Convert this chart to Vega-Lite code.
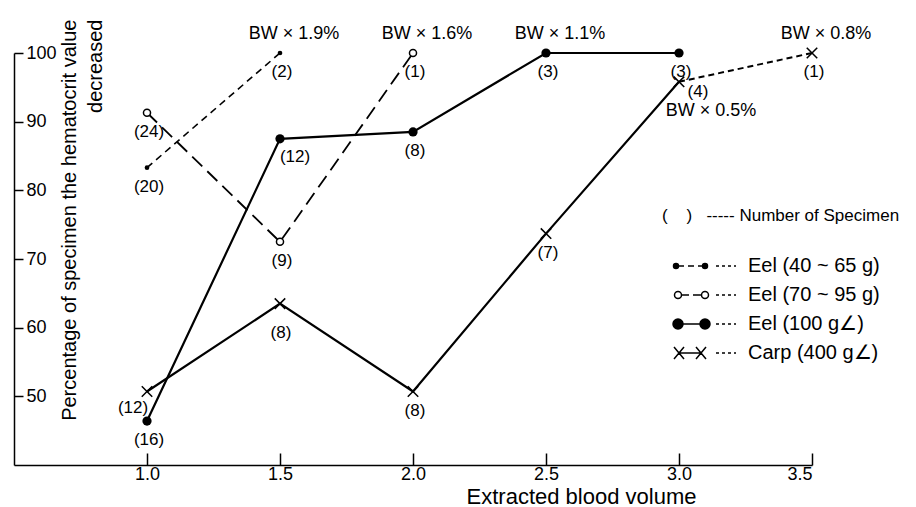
{
  "$schema": "https://vega.github.io/schema/vega-lite/v6.json",
  "width": 798,
  "height": 412,
  "autosize": "none",
  "padding": {"left": 14, "top": 53, "right": 104, "bottom": 42},
  "background": "white",
  "config": {
    "view": {"stroke": null},
    "font": "Liberation Sans",
    "text": {"font": "Liberation Sans", "color": "black"}
  },
  "data": {
    "values": [
      {"series": "Eel (40 ~ 65 g)", "x": 1.0, "y": 83.3, "n": "(20)"},
      {"series": "Eel (40 ~ 65 g)", "x": 1.5, "y": 100, "n": "(2)", "bw": "BW × 1.9%"},
      {"series": "Eel (70 ~ 95 g)", "x": 1.0, "y": 91.3, "n": "(24)"},
      {"series": "Eel (70 ~ 95 g)", "x": 1.5, "y": 72.5, "n": "(9)"},
      {"series": "Eel (70 ~ 95 g)", "x": 2.0, "y": 100, "n": "(1)", "bw": "BW × 1.6%"},
      {"series": "Eel (100 g∠)", "x": 1.0, "y": 46.4, "n": "(16)"},
      {"series": "Eel (100 g∠)", "x": 1.5, "y": 87.5, "n": "(12)"},
      {"series": "Eel (100 g∠)", "x": 2.0, "y": 88.5, "n": "(8)"},
      {"series": "Eel (100 g∠)", "x": 2.5, "y": 100, "n": "(3)", "bw": "BW × 1.1%"},
      {"series": "Eel (100 g∠)", "x": 3.0, "y": 100, "n": "(3)"},
      {"series": "Carp (400 g∠)", "x": 1.0, "y": 50.7, "n": "(12)"},
      {"series": "Carp (400 g∠)", "x": 1.5, "y": 63.5, "n": "(8)"},
      {"series": "Carp (400 g∠)", "x": 2.0, "y": 50.7, "n": "(8)"},
      {"series": "Carp (400 g∠)", "x": 2.5, "y": 73.7, "n": "(7)"},
      {"series": "Carp (400 g∠)", "x": 3.0, "y": 95.8, "n": "(4)", "bw": "BW × 0.5%"},
      {"series": "Carp (400 g∠)", "x": 3.5, "y": 100, "n": "(1)", "bw": "BW × 0.8%"}
    ]
  },
  "encoding": {
    "x": {
      "field": "x", "type": "quantitative",
      "scale": {"domain": [0.5, 3.5], "nice": false, "zero": false},
      "axis": {
        "values": [1, 1.5, 2, 2.5, 3, 3.5], "format": ".1f", "grid": false,
        "tickSize": -12, "tickWidth": 1.5, "tickColor": "black",
        "domainColor": "black", "domainWidth": 1.5,
        "labelPadding": 12, "labelBaseline": "top", "labelFontSize": 18, "labelColor": "black", "labelFont": "Liberation Sans",
        "title": "Extracted blood volume", "titleFontSize": 22, "titleFontWeight": "normal", "titleColor": "black", "titleFont": "Liberation Sans",
        "titleX": 567, "titleY": 38, "titleAlign": "center", "titleBaseline": "alphabetic"
      }
    },
    "y": {
      "field": "y", "type": "quantitative",
      "scale": {"domain": [40, 100], "nice": false, "zero": false},
      "axis": {
        "values": [50, 60, 70, 80, 90, 100], "grid": false,
        "tickSize": -9, "tickWidth": 1.5, "tickColor": "black",
        "domainColor": "black", "domainWidth": 1.5,
        "labelPadding": -3, "labelAlign": "left", "labelBaseline": "middle", "labelFontSize": 18, "labelColor": "black", "labelFont": "Liberation Sans",
        "title": ["Percentage of specimen the hematocrit value", "decreased"],
        "titleFontSize": 20, "titleFontWeight": "normal", "titleColor": "black", "titleFont": "Liberation Sans",
        "titleAngle": 270, "titleAlign": "right", "titleBaseline": "top", "titleLineHeight": 26,
        "titleX": 45, "titleY": -34
      }
    }
  },
  "layer": [
    {"transform": [{"filter": "datum.series === 'Eel (40 ~ 65 g)'"}], "mark": {"type": "line", "color": "black", "strokeWidth": 1.6, "strokeDash": [7, 5]}},
    {"transform": [{"filter": "datum.series === 'Eel (70 ~ 95 g)'"}], "mark": {"type": "line", "color": "black", "strokeWidth": 1.8, "strokeDash": [14, 7]}},
    {"transform": [{"filter": "datum.series === 'Eel (100 g∠)'"}], "mark": {"type": "line", "color": "black", "strokeWidth": 2.2}},
    {"transform": [{"filter": "datum.series === 'Carp (400 g∠)' && datum.x <= 3"}], "mark": {"type": "line", "color": "black", "strokeWidth": 2.2}},
    {"transform": [{"filter": "datum.series === 'Carp (400 g∠)' && datum.x >= 3"}], "mark": {"type": "line", "color": "black", "strokeWidth": 2, "strokeDash": [6, 4]}},
    {"transform": [{"filter": "datum.series === 'Eel (40 ~ 65 g)'"}], "mark": {"type": "point", "shape": "circle", "filled": true, "color": "black", "size": 22, "opacity": 1}},
    {"transform": [{"filter": "datum.series === 'Eel (70 ~ 95 g)'"}], "mark": {"type": "point", "shape": "circle", "filled": true, "fill": "white", "stroke": "black", "strokeWidth": 1.5, "size": 50, "opacity": 1}},
    {"transform": [{"filter": "datum.series === 'Eel (100 g∠)'"}], "mark": {"type": "point", "shape": "circle", "filled": true, "color": "black", "size": 85, "opacity": 1}},
    {"transform": [{"filter": "datum.series === 'Carp (400 g∠)'"}], "mark": {"type": "point", "shape": "M-1,-1L1,1M-1,1L1,-1", "filled": false, "stroke": "black", "strokeWidth": 1.5, "size": 110, "opacity": 1}},
    {
      "transform": [{"filter": "!(datum.series === 'Eel (100 g∠)' && datum.x === 1.5) && !(datum.series === 'Carp (400 g∠)' && (datum.x === 1 || datum.x === 1.5 || datum.x === 3))"}],
      "mark": {"type": "text", "fontSize": 17, "dx": 2, "dy": 19, "align": "center", "baseline": "middle"},
      "encoding": {"text": {"field": "n"}}
    },
    {
      "transform": [{"filter": "datum.series === 'Eel (100 g∠)' && datum.x === 1.5"}],
      "mark": {"type": "text", "fontSize": 17, "dx": 15, "dy": 18, "align": "center", "baseline": "middle"},
      "encoding": {"text": {"field": "n"}}
    },
    {
      "transform": [{"filter": "datum.series === 'Carp (400 g∠)' && datum.x === 1"}],
      "mark": {"type": "text", "fontSize": 17, "dx": -14, "dy": 16, "align": "center", "baseline": "middle"},
      "encoding": {"text": {"field": "n"}}
    },
    {
      "transform": [{"filter": "datum.series === 'Carp (400 g∠)' && datum.x === 1.5"}],
      "mark": {"type": "text", "fontSize": 17, "dx": 1, "dy": 29, "align": "center", "baseline": "middle"},
      "encoding": {"text": {"field": "n"}}
    },
    {
      "transform": [{"filter": "datum.series === 'Carp (400 g∠)' && datum.x === 3"}],
      "mark": {"type": "text", "fontSize": 17, "dx": 19, "dy": 10, "align": "center", "baseline": "middle"},
      "encoding": {"text": {"field": "n"}}
    },
    {
      "transform": [{"filter": "isValid(datum.bw) && !(datum.series === 'Carp (400 g∠)' && datum.x === 3)"}],
      "mark": {"type": "text", "fontSize": 18, "dx": 14, "dy": -19, "align": "center", "baseline": "middle"},
      "encoding": {"text": {"field": "bw"}}
    },
    {
      "transform": [{"filter": "isValid(datum.bw) && datum.series === 'Carp (400 g∠)' && datum.x === 3"}],
      "mark": {"type": "text", "fontSize": 18, "dx": 32, "dy": 29, "align": "center", "baseline": "middle"},
      "encoding": {"text": {"field": "bw"}}
    },
    {
      "data": {"values": [{"t": "%"}]},
      "mark": {"type": "text", "fontSize": 19, "dx": 19, "dy": -21, "align": "center", "baseline": "middle"},
      "encoding": {"x": {"datum": 0.5}, "y": {"datum": 100}, "text": {"field": "t"}}
    },
    {
      "data": {"values": [{"t": "cc"}]},
      "mark": {"type": "text", "fontSize": 20, "dx": 42, "dy": 4, "align": "center", "baseline": "middle"},
      "encoding": {"x": {"datum": 3.5}, "y": {"datum": 40}, "text": {"field": "t"}}
    },
    {
      "transform": [{"filter": "false"}],
      "mark": {"type": "point", "opacity": 1, "filled": true, "strokeWidth": 1.5},
      "encoding": {
        "shape": {
          "field": "series", "type": "nominal",
          "scale": {
            "domain": ["Eel (40 ~ 65 g)", "Eel (70 ~ 95 g)", "Eel (100 g∠)", "Carp (400 g∠)"],
            "range": [
              "M1.5,0A2.5,2.5,0,1,0,6.5,0A2.5,2.5,0,1,0,1.5,0ZM30.5,0A2.5,2.5,0,1,0,35.5,0A2.5,2.5,0,1,0,30.5,0ZM6,0L12,0M16,0L22,0M26,0L31,0M44,0L47,0M50,0L53,0M56,0L59,0M62,0L64,0",
              "M2.5,0A3.5,3.5,0,1,0,9.5,0A3.5,3.5,0,1,0,2.5,0ZM29.5,0A3.5,3.5,0,1,0,36.5,0A3.5,3.5,0,1,0,29.5,0ZM9.5,0L17,0M21,0L29.5,0M44,0L47,0M50,0L53,0M56,0L59,0M62,0L64,0",
              "M1,0A5,5,0,1,0,11,0A5,5,0,1,0,1,0ZM28,0A5,5,0,1,0,38,0A5,5,0,1,0,28,0ZM6,0L33,0M44,0L47,0M50,0L53,0M56,0L59,0M62,0L64,0",
              "M2,-6L12,6M2,6L12,-6M24,-6L34,6M24,6L34,-6M7,0L29,0M44,0L47,0M50,0L53,0M56,0L59,0M62,0L64,0"
            ]
          },
          "legend": {
            "orient": "none", "legendX": 648, "legendY": 155,
            "title": "(\u00a0\u00a0\u00a0\u00a0)\u00a0\u00a0\u00a0-----\u00a0Number of Specimen",
            "titleFontSize": 17, "titleFontWeight": "normal", "titleFont": "Liberation Sans", "titleColor": "black", "titlePadding": 31, "titleLimit": 400,
            "labelFontSize": 20, "labelFont": "Liberation Sans", "labelColor": "black", "labelOffset": 66, "labelLimit": 300,
            "symbolSize": 4, "rowPadding": 9, "symbolStrokeWidth": 1.5, "symbolStrokeColor": "black", "symbolOpacity": 1
          }
        },
        "fill": {
          "field": "series", "type": "nominal",
          "scale": {
            "domain": ["Eel (40 ~ 65 g)", "Eel (70 ~ 95 g)", "Eel (100 g∠)", "Carp (400 g∠)"],
            "range": ["black", "white", "black", "transparent"]
          },
          "legend": {
            "orient": "none", "legendX": 648, "legendY": 155,
            "title": "(\u00a0\u00a0\u00a0\u00a0)\u00a0\u00a0\u00a0-----\u00a0Number of Specimen"
          }
        },
        "stroke": {
          "field": "series", "type": "nominal",
          "scale": {
            "domain": ["Eel (40 ~ 65 g)", "Eel (70 ~ 95 g)", "Eel (100 g∠)", "Carp (400 g∠)"],
            "range": ["black", "black", "black", "black"]
          },
          "legend": {
            "orient": "none", "legendX": 648, "legendY": 155,
            "title": "(\u00a0\u00a0\u00a0\u00a0)\u00a0\u00a0\u00a0-----\u00a0Number of Specimen"
          }
        }
      }
    }
  ]
}
